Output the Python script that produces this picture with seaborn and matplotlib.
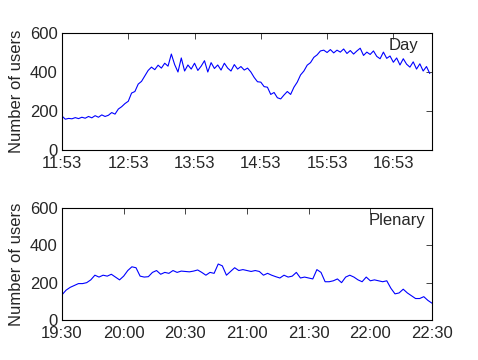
import numpy as np
import pandas as pd
import seaborn as sns
import matplotlib
matplotlib.use('AGG')
import matplotlib.pyplot as plt

sns.set_style("white")
plt.rcParams['font.family'] = ['Liberation Sans', 'DejaVu Sans']

# Day session, one sample every 3 minutes starting 11:53
day_users = [
    174, 158, 162, 160, 166, 161, 168, 163, 172, 165, 176, 168, 180, 172,
    178, 192, 184, 210, 222, 238, 250, 292, 300, 338, 352, 380, 408, 425,
    412, 435, 420, 445, 430, 492, 438, 400, 472, 405, 436, 415, 445, 408,
    430, 458, 400, 448, 418, 436, 410, 445, 420, 405, 438, 415, 428, 410,
    420, 400, 372, 350, 348, 325, 322, 285, 295, 268, 262, 282, 300, 285,
    322, 348, 385, 405, 435, 448, 475, 488, 508, 512, 500, 515, 498, 512,
    502, 518, 495, 510, 492, 508, 522, 485, 502, 490, 508, 480, 468, 502,
    470, 482, 450, 472, 436, 468, 440, 425, 452, 415, 442, 405, 428, 392,
]
day_ticks = [0, 60, 120, 180, 240, 300]
day_labels = ['11:53', '12:53', '13:53', '14:53', '15:53', '16:53']

# Plenary session, one sample every 2 minutes starting 19:30
plenary_users = [
    135, 160, 175, 185, 195, 195, 200, 215, 240, 230, 240, 235, 245, 230,
    215, 235, 265, 285, 280, 235, 230, 232, 255, 265, 245, 255, 250, 265,
    255, 262, 260, 258, 262, 268, 255, 240, 255, 250, 300, 290, 240, 260,
    280, 265, 270, 265, 260, 265, 260, 240, 250, 240, 232, 225, 240, 230,
    235, 255, 225, 230, 225, 220, 270, 255, 205, 205, 210, 220, 200, 230,
    240, 230, 215, 205, 230, 210, 215, 210, 205, 210, 170, 140, 145, 165,
    145, 130, 115, 115, 125, 105, 90,
]
plenary_ticks = [0, 30, 60, 90, 120, 150, 180]
plenary_labels = ['19:30', '20:00', '20:30', '21:00', '21:30', '22:00', '22:30']

day = pd.DataFrame({'minute': np.arange(len(day_users)) * 3, 'users': day_users})
plenary = pd.DataFrame({'minute': np.arange(len(plenary_users)) * 2,
                        'users': plenary_users})

fig = plt.figure(figsize=(4.78, 3.6), dpi=100)
ax1 = fig.add_axes([62 / 478, 1 - 150 / 360, 370 / 478, 117 / 360])
ax2 = fig.add_axes([62 / 478, 1 - 320 / 360, 370 / 478, 112 / 360])

panels = [
    (ax1, day, day_ticks, day_labels, 335, 'Day', 0.882),
    (ax2, plenary, plenary_ticks, plenary_labels, 180, 'Plenary', 0.83),
]
for ax, df, ticks, labels, xmax, name, tx in panels:
    sns.lineplot(x='minute', y='users', data=df, ax=ax, color='#0000ff', lw=0.8)
    ax.set_xlim(0, xmax)
    ax.set_ylim(0, 600)
    ax.set_xticks(ticks)
    ax.set_xticklabels(labels)
    ax.set_yticks([0, 200, 400, 600])
    ax.set_xlabel('')
    ax.set_ylabel('Number of users', fontsize=12, labelpad=4)
    ax.tick_params(direction='in', top=True, right=True, length=4,
                   width=0.6, labelsize=12)
    ax.tick_params(axis='x', pad=4)
    ax.tick_params(axis='y', pad=3)
    for s in ax.spines.values():
        s.set_color('black')
        s.set_linewidth(0.8)
    ax.text(tx, 0.89, name, transform=ax.transAxes, fontsize=12, va='center')

plt.savefig('out.png', dpi=100)
